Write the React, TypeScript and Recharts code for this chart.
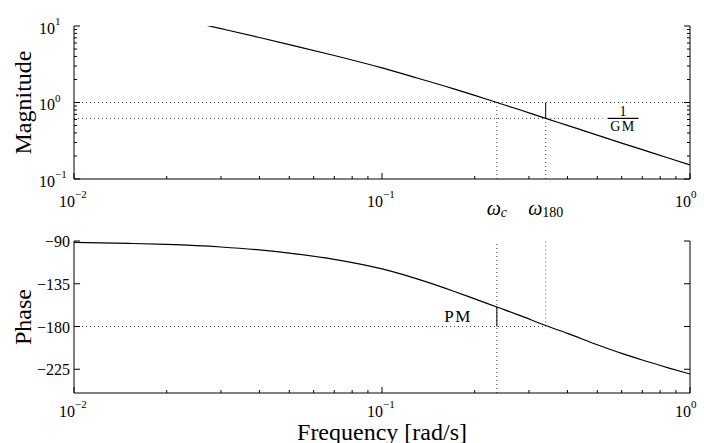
import React from "react";
import { LineChart, Line, XAxis, YAxis, ReferenceLine, ReferenceDot } from "recharts";

// frequency response
const freq = [0.01, 0.015, 0.02, 0.03, 0.04, 0.05, 0.07, 0.1, 0.13, 0.17, 0.2, 0.236, 0.28, 0.34, 0.4, 0.5, 0.6, 0.7, 0.85, 1];
const magnitude = [24.9, 17.4, 13.4, 9.24, 7.07, 5.71, 4.11, 2.83, 2.09, 1.52, 1.24, 1.0, 0.803, 0.62, 0.502, 0.374, 0.295, 0.242, 0.188, 0.153];
const phase = [-91.4, -92.5, -93.6, -96.3, -99.4, -102.7, -109.3, -119.4, -129.9, -142.6, -150.9, -159.5, -168.3, -179, -187.2, -199.2, -208.3, -215.3, -223.5, -230];

const freqTicks = [
  0.01, 0.02, 0.03, 0.04, 0.05, 0.06, 0.07, 0.08, 0.09,
  0.1, 0.2, 0.3, 0.4, 0.5, 0.6, 0.7, 0.8, 0.9, 1,
];
const magTicks = [0.1, 0.2, 0.3, 0.4, 0.5, 0.6, 0.7, 0.8, 0.9, 1, 2, 3, 4, 5, 6, 7, 8, 9, 10];
const phaseTicks = [-225, -180, -135, -90];

// margins
const wc = 0.236;
const w180 = 0.34;
const gmInv = 0.62;
const gmLineEnd = 0.52;
const phaseAtWc = phase[freq.indexOf(wc)];
const crossFreqs = [wc, w180];
const crossSubs = ["c", "180"];

const magData = freq.map((f, i) => ({ f, mag: magnitude[i] }));
const phaseData = freq.map((f, i) => ({ f, ph: phase[i] }));

const FONT = '"Liberation Serif", "DejaVu Serif", serif';
const DOT = { stroke: "#444", strokeWidth: 1, strokeDasharray: "1 3" };

const isDecade = (v: number) => Math.abs(Math.log10(v) - Math.round(Math.log10(v))) < 1e-6;
const expText = (v: number) => {
  const e = Math.round(Math.log10(v));
  return e < 0 ? `\u2212${-e}` : `${e}`;
};

function FreqTick(props: any) {
  const { x, y, payload, dir, showLabel, labelDy } = props;
  const v = payload.value;
  const major = isDecade(v);
  const len = major ? 6 : 3;
  return (
    <g>
      <line x1={x} x2={x} y1={y} y2={y + dir * len} stroke="#000" />
      {showLabel && major && (
        <>
          <text x={x + 1} y={y + labelDy} textAnchor="end" fontFamily={FONT} fontSize={16} fill="#000">
            10
          </text>
          <text x={x + 1} y={y + labelDy - 9} textAnchor="start" fontFamily={FONT} fontSize={11} fill="#000">
            {expText(v)}
          </text>
        </>
      )}
    </g>
  );
}

function MagTick(props: any) {
  const { x, y, payload, dir, showLabel } = props;
  const v = payload.value;
  const major = isDecade(v);
  const len = major ? 6 : 3;
  return (
    <g>
      <line x1={x} x2={x + dir * len} y1={y} y2={y} stroke="#000" />
      {showLabel && major && (
        <text x={x - 35} y={y + 7.5} fontFamily={FONT} fontSize={16} fill="#000">
          <tspan>10</tspan>
          <tspan dy={-8.5} fontSize={11}>
            {expText(v)}
          </tspan>
        </text>
      )}
    </g>
  );
}

function PhaseTick(props: any) {
  const { x, y, payload, dir, showLabel } = props;
  return (
    <g>
      <line x1={x} x2={x + dir * 6} y1={y} y2={y} stroke="#000" />
      {showLabel && (
        <text x={x - 4} y={y + 6} textAnchor="end" fontFamily={FONT} fontSize={16} fill="#000">
          {String(payload.value).replace("-", "\u2212")}
        </text>
      )}
    </g>
  );
}

function CrossTick(props: any) {
  const { x, y, index } = props;
  const sub = crossSubs[index];
  return (
    <text x={x} y={y + 14} textAnchor="middle" fontFamily={FONT} fill="#000">
      <tspan fontStyle="italic" fontSize={20}>
        ω
      </tspan>
      <tspan fontSize={14} dy={2} fontStyle={sub === "c" ? "italic" : "normal"}>
        {sub}
      </tspan>
    </text>
  );
}

const yTitle = (text: string, dx: number) => (p: any) => {
  const vb = p.viewBox || { x: 0, y: 0, width: 0, height: 0 };
  const cx = vb.x + dx;
  const cy = vb.y + vb.height / 2;
  return (
    <text x={cx} y={cy} transform={`rotate(-90 ${cx} ${cy})`} textAnchor="middle" fontFamily={FONT} fontSize={24} fill="#000">
      {text}
    </text>
  );
};

const xTitle = (p: any) => {
  const vb = p.viewBox || { x: 0, y: 0, width: 0, height: 0 };
  return (
    <text x={vb.x + vb.width / 2} y={vb.y + 46.5} textAnchor="middle" fontFamily={FONT} fontSize={24} fill="#000">
      Frequency [rad/s]
    </text>
  );
};

const GmLabel = (p: any) => {
  const vb = p.viewBox || { x: 0, y: 0 };
  const cx = vb.x + 20.5;
  const cy = vb.y;
  return (
    <g fontFamily={FONT} fill="#000">
      <line x1={cx - 15.5} x2={cx + 15.5} y1={cy} y2={cy} stroke="#000" strokeWidth={1.2} />
      <text x={cx} y={cy - 2.5} textAnchor="middle" fontSize={14}>
        1
      </text>
      <text x={cx} y={cy + 12.5} textAnchor="middle" fontSize={14} letterSpacing={1.5}>
        GM
      </text>
    </g>
  );
};

const PmLabel = (p: any) => {
  const vb = p.viewBox || { x: 0, y: 0 };
  return (
    <text x={vb.x - 25} y={vb.y - 4.5} textAnchor="end" fontFamily={FONT} fontSize={17} letterSpacing={1.5} fill="#000">
      PM
    </text>
  );
};

const logX = {
  dataKey: "f",
  type: "number" as const,
  scale: "log" as const,
  domain: [0.01, 1],
  allowDataOverflow: true,
  ticks: freqTicks,
  interval: 0 as const,
  tickSize: 0,
  tickMargin: 0,
  tickLine: false,
  axisLine: { stroke: "#000" },
};

export default function App() {
  return (
    <div style={{ position: "absolute", left: 0, top: 0, width: 704, height: 443, background: "#fff" }}>
      <LineChart width={704} height={230} data={magData} margin={{ top: 26, right: 0, bottom: 4, left: 0 }}>
        <XAxis {...logX} height={22} tick={(p: any) => <FreqTick {...p} dir={-1} showLabel labelDy={28} />} />
        <XAxis
          {...logX}
          xAxisId="w"
          ticks={crossFreqs}
          axisLine={false}
          height={25}
          tick={(p: any) => <CrossTick {...p} />}
        />
        <XAxis {...logX} xAxisId="top" orientation="top" height={0} tick={(p: any) => <FreqTick {...p} dir={1} />} />
        <YAxis
          type="number"
          scale="log"
          domain={[0.1, 10]}
          allowDataOverflow
          ticks={magTicks}
          interval={0}
          tickSize={0}
          tickMargin={0}
          tickLine={false}
          axisLine={{ stroke: "#000" }}
          width={74}
          tick={(p: any) => <MagTick {...p} dir={1} showLabel />}
          label={{ content: yTitle("Magnitude", 31) }}
        />
        <YAxis
          yAxisId="r"
          orientation="right"
          type="number"
          scale="log"
          domain={[0.1, 10]}
          allowDataOverflow
          ticks={magTicks}
          interval={0}
          tickSize={0}
          tickMargin={0}
          tickLine={false}
          axisLine={{ stroke: "#000" }}
          width={14}
          tick={(p: any) => <MagTick {...p} dir={-1} />}
        />
        <ReferenceLine y={1} {...DOT} />
        <ReferenceLine segment={[{ x: 0.01, y: gmInv }, { x: gmLineEnd, y: gmInv }]} {...DOT} />
        <ReferenceLine segment={[{ x: wc, y: 0.1 }, { x: wc, y: 1 }]} {...DOT} />
        <ReferenceLine segment={[{ x: w180, y: 0.1 }, { x: w180, y: gmInv }]} {...DOT} />
        <ReferenceLine segment={[{ x: w180, y: gmInv }, { x: w180, y: 1 }]} stroke="#000" strokeWidth={1} />
        <ReferenceDot x={gmLineEnd} y={gmInv} r={0} fill="none" stroke="none" label={GmLabel} />
        <Line dataKey="mag" type="monotone" dot={false} stroke="#000" strokeWidth={1.2} isAnimationActive={false} />
      </LineChart>
      <LineChart width={704} height={213} data={phaseData} margin={{ top: 11, right: 0, bottom: 0, left: 0 }}>
        <XAxis
          {...logX}
          height={50}
          tick={(p: any) => <FreqTick {...p} dir={-1} showLabel labelDy={23.5} />}
          label={{ content: xTitle }}
        />
        <XAxis {...logX} xAxisId="top" orientation="top" height={0} tick={(p: any) => <FreqTick {...p} dir={1} />} />
        <YAxis
          type="number"
          domain={[-250, -90]}
          allowDataOverflow
          ticks={phaseTicks}
          interval={0}
          tickSize={0}
          tickMargin={0}
          tickLine={false}
          axisLine={{ stroke: "#000" }}
          width={74}
          tick={(p: any) => <PhaseTick {...p} dir={1} showLabel />}
          label={{ content: yTitle("Phase", 31) }}
        />
        <YAxis
          yAxisId="r"
          orientation="right"
          type="number"
          domain={[-250, -90]}
          allowDataOverflow
          ticks={phaseTicks}
          interval={0}
          tickSize={0}
          tickMargin={0}
          tickLine={false}
          axisLine={{ stroke: "#000" }}
          width={14}
          tick={(p: any) => <PhaseTick {...p} dir={-1} />}
        />
        <ReferenceLine segment={[{ x: 0.01, y: -180 }, { x: w180, y: -180 }]} {...DOT} />
        <ReferenceLine x={wc} {...DOT} />
        <ReferenceLine segment={[{ x: w180, y: -180 }, { x: w180, y: -90 }]} {...DOT} />
        <ReferenceLine segment={[{ x: wc, y: -180 }, { x: wc, y: phaseAtWc }]} stroke="#000" strokeWidth={1} />
        <ReferenceDot x={wc} y={-180} r={0} fill="none" stroke="none" label={PmLabel} />
        <Line dataKey="ph" type="monotone" dot={false} stroke="#000" strokeWidth={1.2} isAnimationActive={false} />
      </LineChart>
    </div>
  );
}
